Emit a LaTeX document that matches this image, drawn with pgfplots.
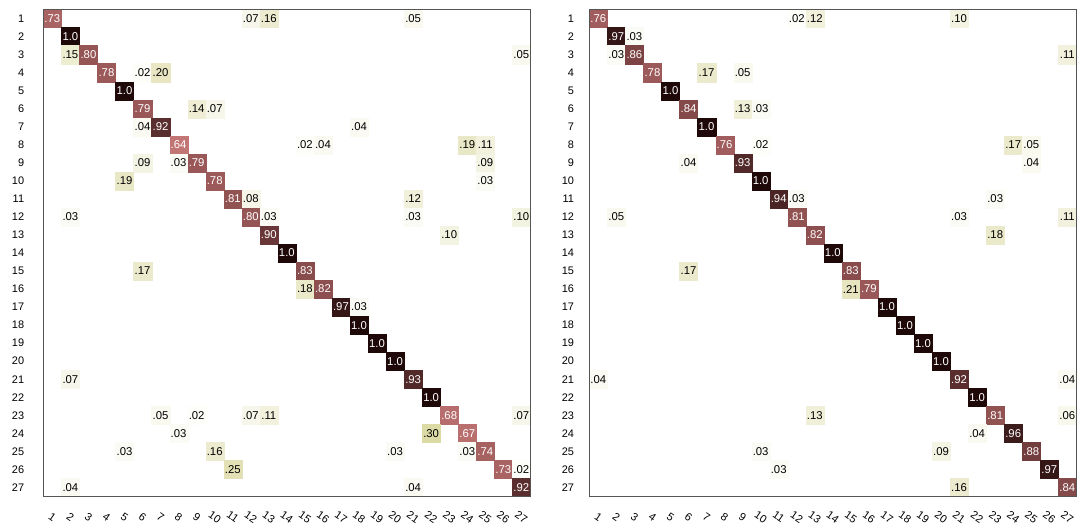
\documentclass[border=0pt]{standalone}
\usepackage{fontspec}
\setmainfont{Liberation Sans}
\usepackage{pgfplots}
\pgfplotsset{compat=1.18}
\usepackage{pgfplotstable}

% Confusion matrix entries: predicted class c, true class r, share v.
\pgfplotstableread{
c r v
1 1 0.73
12 1 0.07
13 1 0.16
21 1 0.05
2 2 1.00
2 3 0.15
3 3 0.80
27 3 0.05
4 4 0.78
6 4 0.02
7 4 0.20
5 5 1.00
6 6 0.79
9 6 0.14
10 6 0.07
6 7 0.04
7 7 0.92
18 7 0.04
8 8 0.64
15 8 0.02
16 8 0.04
24 8 0.19
25 8 0.11
6 9 0.09
8 9 0.03
9 9 0.79
25 9 0.09
5 10 0.19
10 10 0.78
25 10 0.03
11 11 0.81
12 11 0.08
21 11 0.12
2 12 0.03
12 12 0.80
13 12 0.03
21 12 0.03
27 12 0.10
13 13 0.90
23 13 0.10
14 14 1.00
6 15 0.17
15 15 0.83
15 16 0.18
16 16 0.82
17 17 0.97
18 17 0.03
18 18 1.00
19 19 1.00
20 20 1.00
2 21 0.07
21 21 0.93
22 22 1.00
7 23 0.05
9 23 0.02
12 23 0.07
13 23 0.11
23 23 0.68
27 23 0.07
8 24 0.03
22 24 0.30
24 24 0.67
5 25 0.03
10 25 0.16
20 25 0.03
24 25 0.03
25 25 0.74
11 26 0.25
26 26 0.73
27 26 0.02
2 27 0.04
21 27 0.04
27 27 0.92
}\confA

\pgfplotstableread{
c r v
1 1 0.76
12 1 0.02
13 1 0.12
21 1 0.10
2 2 0.97
3 2 0.03
2 3 0.03
3 3 0.86
27 3 0.11
4 4 0.78
7 4 0.17
9 4 0.05
5 5 1.00
6 6 0.84
9 6 0.13
10 6 0.03
7 7 1.00
8 8 0.76
10 8 0.02
24 8 0.17
25 8 0.05
6 9 0.04
9 9 0.93
25 9 0.04
10 10 1.00
11 11 0.94
12 11 0.03
23 11 0.03
2 12 0.05
12 12 0.81
21 12 0.03
27 12 0.11
13 13 0.82
23 13 0.18
14 14 1.00
6 15 0.17
15 15 0.83
15 16 0.21
16 16 0.79
17 17 1.00
18 18 1.00
19 19 1.00
20 20 1.00
1 21 0.04
21 21 0.92
27 21 0.04
22 22 1.00
13 23 0.13
23 23 0.81
27 23 0.06
22 24 0.04
24 24 0.96
10 25 0.03
20 25 0.09
25 25 0.88
11 26 0.03
26 26 0.97
21 27 0.16
27 27 0.84
}\confB

% colour scale: white -> khaki (0.3) -> rose (0.6) -> brown (0.8, 0.9) -> near black (1)
\definecolor{cmA}{RGB}{255,255,255}
\definecolor{cmB}{RGB}{220,218,165}
\definecolor{cmC}{RGB}{205,125,125}
\definecolor{cmD}{RGB}{150,85,85}
\definecolor{cmE}{RGB}{105,55,55}
\definecolor{cmF}{RGB}{30,8,8}
\definecolor{framegray}{RGB}{85,85,85}
\newcommand\setcellfill[1]{%
  \begingroup
  \pgfkeys{/pgf/fpu=false}%
  \ifdim#1pt<0.3pt
    \pgfmathsetmacro\cmp{#1/0.3*100}\xdef\cellmix{cmB!\cmp!cmA}%
  \else\ifdim#1pt<0.6pt
    \pgfmathsetmacro\cmp{(#1-0.3)/0.3*100}\xdef\cellmix{cmC!\cmp!cmB}%
  \else\ifdim#1pt<0.8pt
    \pgfmathsetmacro\cmp{(#1-0.6)/0.2*100}\xdef\cellmix{cmD!\cmp!cmC}%
  \else\ifdim#1pt<0.9pt
    \pgfmathsetmacro\cmp{(#1-0.8)/0.1*100}\xdef\cellmix{cmE!\cmp!cmD}%
  \else
    \pgfmathsetmacro\cmp{min(100,(#1-0.9)/0.1*100)}\xdef\cellmix{cmF!\cmp!cmE}%
  \fi\fi\fi\fi
  \endgroup
  \colorlet{cellfill}{\cellmix}}

% printed share: ".73" style, "1.0" for a full row, white on dark cells
\newcommand\cellnum[1]{%
  \ifdim#1pt>0.995pt 1.0%
  \else\pgfmathprintnumber[fixed,precision=2,zerofill,skip 0.,assume math mode=true]{#1}\fi}
\newcommand\celltext[1]{%
  \ifdim#1pt>0.5pt\textcolor{white}{\cellnum{#1}}\else\textcolor{black}{\cellnum{#1}}\fi}

\pgfplotsset{
  confmat/.style={
    anchor=south west,
    x=13.53pt, y=13.53pt,
    xmin=0.5, xmax=27.5, ymin=0.5, ymax=27.5,
    y dir=reverse,
    axis on top,
    xtick={1,...,27}, ytick={1,...,27},
    major tick length=0pt,
    axis line style={framegray, line width=1pt},
    tick label style={font=\fontsize{8.2}{10}\selectfont},
    /pgf/number format/assume math mode=true,
    xticklabel style={anchor=center, yshift=-15.4pt, rotate=-35},
    clip=false,
    % closed frame round the matrix
    after end axis/.code={%
      \draw[framegray, line width=1pt] (rel axis cs:0,0) rectangle (rel axis cs:1,1);},
  },
  % coloured squares, one per nonzero cell
  confcells/.style={
    scatter, only marks, mark=square*, mark size=6.77pt,
    point meta=\thisrow{v},
    visualization depends on={\thisrow{v}\as\cellval},
    scatter/@pre marker code/.code={%
      \setcellfill{\cellval}\scope[fill=cellfill, draw=cellfill, line width=0.1pt]},
    scatter/@post marker code/.code={\endscope},
  },
  % the shares written in the cells
  conflabels/.style={
    only marks, mark=none,
    point meta=\thisrow{v},
    visualization depends on={\thisrow{v}\as\cellval},
    nodes near coords={\celltext{\cellval}},
    every node near coord/.append style={anchor=center, inner sep=0pt,
      font=\fontsize{8.5}{10}\selectfont},
  },
}

\begin{document}
\begin{tikzpicture}
\useasboundingbox (-32.5pt,-22.9pt) rectangle (784.3pt,372.4pt);
\begin{axis}[confmat, at={(0pt,0pt)},
  yticklabel style={anchor=east, xshift=-10.9pt}]
  \addplot[confcells] table[x=c, y=r] {\confA};
  \addplot[conflabels] table[x=c, y=r] {\confA};
\end{axis}
\begin{axis}[confmat, at={(409.5pt,0pt)},
  yticklabel style={anchor=east, xshift=-7.9pt}]
  \addplot[confcells] table[x=c, y=r] {\confB};
  \addplot[conflabels] table[x=c, y=r] {\confB};
\end{axis}
\end{tikzpicture}
\end{document}
